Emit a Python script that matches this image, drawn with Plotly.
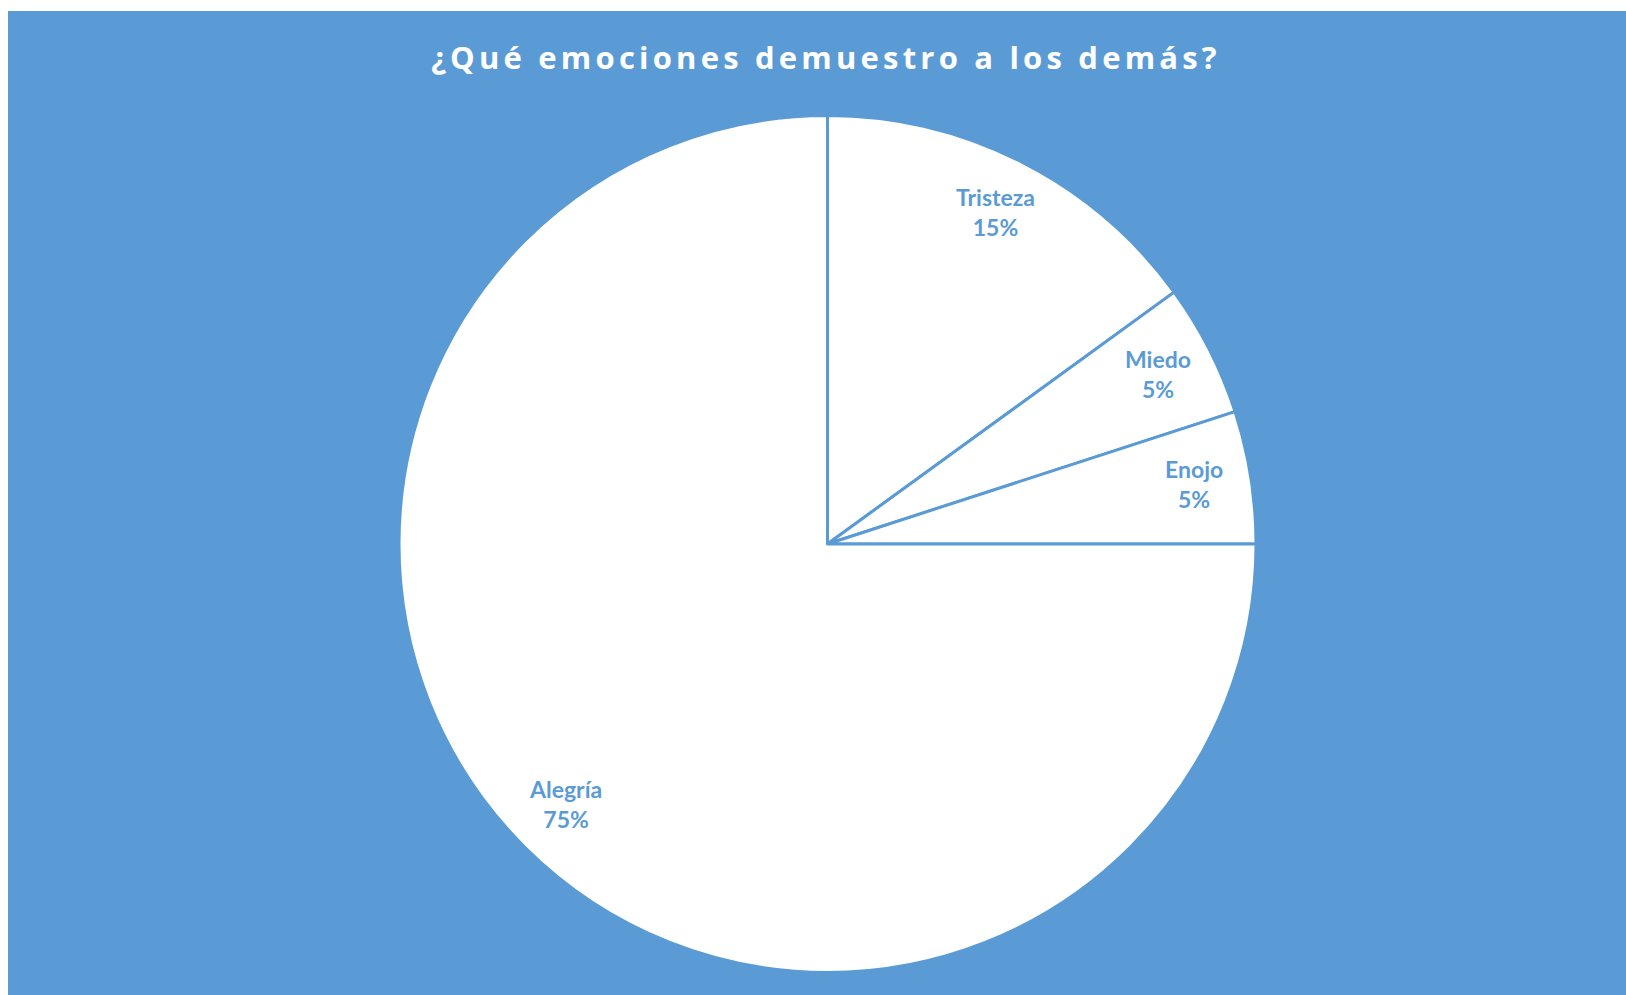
import math
import plotly.graph_objects as go

# Data
labels = ["Tristeza", "Miedo", "Enojo", "Alegría"]
values = [15, 5, 5, 75]
title_text = "¿Qué emociones demuestro a los demás?"

BLUE = "#5B9BD5"
W, H = 1626, 995

# pie geometry (pixels)
cx, cy, R = 827.5, 544.0, 428.5
dom_x = [(cx - R) / W, (cx + R) / W]
dom_y = [1 - (cy + R) / H, 1 - (cy - R) / H]

fig = go.Figure()
fig.add_trace(go.Pie(
    labels=labels,
    values=values,
    sort=False,
    direction="clockwise",
    rotation=0,
    marker=dict(colors=["white"] * len(labels), line=dict(color=BLUE, width=3)),
    textinfo="none",
    hoverinfo="label+percent",
    showlegend=False,
    domain=dict(x=dom_x, y=dom_y),
))

# data labels placed at slice mid-angles
total = sum(values)
cum = 0
annotations = []
for lab, v in zip(labels, values):
    mid = (cum + v / 2) / total * 2 * math.pi
    cum += v
    rf = 0.865
    px = cx + rf * R * math.sin(mid)
    py = cy - rf * R * math.cos(mid)
    pct = round(v / total * 100)
    annotations.append(dict(
        x=px / W, y=1 - py / H, xref="paper", yref="paper",
        text=f"<b>{lab}<br>{pct}%</b>", showarrow=False,
        font=dict(family="Lato", size=23, color=BLUE),
        xanchor="center", yanchor="middle", align="center", yshift=2,
    ))

fig.update_layout(
    width=W, height=H,
    margin=dict(l=0, r=0, t=0, b=0),
    paper_bgcolor="white",
    plot_bgcolor="white",
    title=dict(
        text=f'<span style="letter-spacing:4.2px"><b>{title_text}</b></span>',
        x=826 / W, y=1 - 58 / H, xanchor="center", yanchor="middle",
        xref="paper", yref="paper",
        font=dict(family="Open Sans", size=31, color="white"),
    ),
    shapes=[dict(
        type="rect", xref="paper", yref="paper", layer="below",
        x0=8 / W, x1=1, y0=0, y1=1 - 11 / H,
        fillcolor=BLUE, line=dict(width=0),
    )],
    annotations=annotations,
)

fig.write_html("out.html")
